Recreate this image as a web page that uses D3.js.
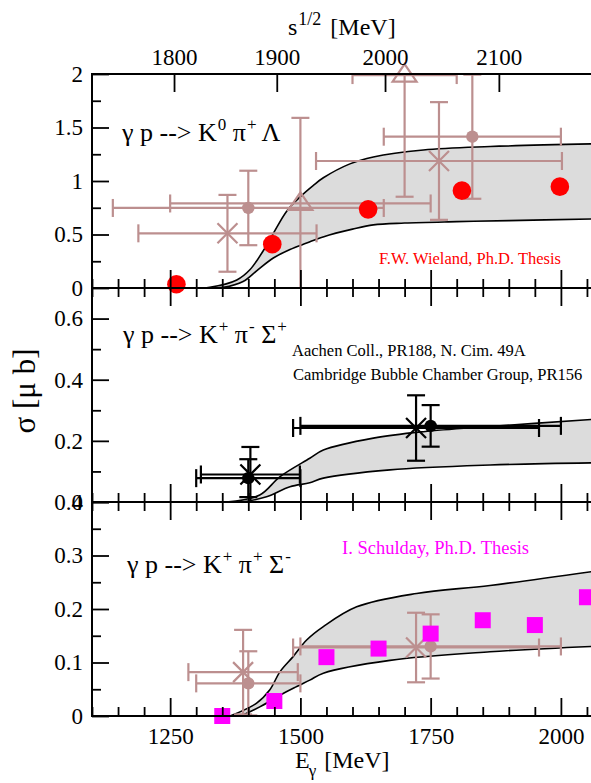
<!DOCTYPE html>
<html>
<head>
<meta charset="utf-8">
<script src="https://cdn.jsdelivr.net/npm/d3@7"></script>
<style>
  html, body { margin: 0; padding: 0; background: #fff; }
  svg { display: block; font-family: "Liberation Serif", "Times New Roman", serif; }
</style>
</head>
<body>
<script>
// ---- shared axis data ----
const M_P = 938.272;                       // proton mass [MeV]
const energyDomain = [1100, 2100];         // E_gamma [MeV]
const energyMajor = [1250, 1500, 1750, 2000];
const energyMinorStep = 50;
const sqrtsTicks = [1800, 1900, 2000, 2100];

// ---- gamma p -> K0 pi+ Lambda ----
const k0YMajor = [0, 0.5, 1, 1.5, 2];
const k0YMinor = [0.25, 0.75, 1.25, 1.75];
const k0BandUpper = [[1280,0],[1326,0.007],[1378,0.075],[1403,0.17],[1429,0.35],[1448,0.51],[1474,0.72],
                     [1499,0.85],[1525,0.96],[1544,1.03],[1595,1.16],[1640,1.225],[1736,1.29],[1864,1.322],[2060,1.347]];
const k0BandLower = [[1300,0],[1352,0.006],[1390,0.06],[1416,0.16],[1448,0.28],[1480,0.36],[1512,0.42],
                     [1545,0.48],[1600,0.55],[1640,0.59],[1700,0.607],[1800,0.62],[1900,0.63],[2060,0.645]];
const wielandE = [1262, 1446, 1630, 1810, 1998];
const wielandSigma = [0.035, 0.41, 0.735, 0.91, 0.947];
const k0Cross = [{e:1360, de:171, s:0.511, ds:0.359}, {e:1766, de:236, s:1.187, ds:0.55}];
const k0Dot   = [{e:1400, de:260, s:0.748, ds:0.348}, {e:1830, de:170, s:1.414, ds:0.58}];
const k0Tri   = [{e:1500, de:250, s:0.79, ds:0.80}, {e:1700, de:100, s:1.99, ds:1.137}];

// ---- gamma p -> K+ pi- Sigma+ ----
const pmYMajor = [0, 0.2, 0.4, 0.6];
const pmYMinor = [0.1, 0.3, 0.5];
const pmBandUpper = [[1358,0],[1422,0.023],[1461,0.083],[1518,0.143],[1544,0.17],[1640,0.209],[1736,0.23],[1864,0.247],[2060,0.27]];
const pmBandLower = [[1390,0],[1435,0.017],[1480,0.05],[1518,0.063],[1544,0.078],[1672,0.105],[1864,0.121],[2060,0.128]];
const pmCross = [{e:1404, de:95, s:0.09, ds:0.09}, {e:1722, de:236, s:0.242, ds:0.107}];
const pmDot   = [{e:1400, de:100, s:0.078, ds:0.062}, {e:1750, de:250, s:0.249, ds:0.068}];

// ---- gamma p -> K+ pi+ Sigma- ----
const mpYMajor = [0, 0.1, 0.2, 0.3, 0.4];
const mpYMinor = [0.05, 0.15, 0.25, 0.35];
const mpBandUpper = [[1365,0],[1416,0.024],[1441,0.0485],[1461,0.083],[1486,0.111],[1512,0.142],[1544,0.167],
                     [1608,0.204],[1723,0.229],[1864,0.244],[2060,0.27]];
const mpBandLower = [[1385,0],[1422,0.017],[1461,0.039],[1493,0.055],[1518,0.067],[1544,0.08],[1672,0.104],[1864,0.12],[2060,0.13]];
const schuldayE = [1350, 1450, 1550, 1650, 1750, 1850, 1950, 2050];
const schuldaySigma = [0.0, 0.028, 0.11, 0.126, 0.154, 0.179, 0.17, 0.222];
const mpCross = [{e:1390, de:105, s:0.082, ds:0.079}, {e:1722, de:236, s:0.128, ds:0.065}];
const mpDot   = [{e:1400, de:100, s:0.061, ds:0.06}, {e:1750, de:250, s:0.13, ds:0.06}];

// ---- layout ----
const W = 591, H = 783;
const left = 92, right = 613, panelH = 214;
const tops = [74, 288, 502];
const ROSY = "#bc8f8f", GRAY = "#dcdcdc";

const svg = d3.select("body").append("svg").attr("width", W).attr("height", H);
const defs = svg.append("defs");

const x = d3.scaleLinear().domain(energyDomain).range([left, right]);
const wOf = e => Math.sqrt(M_P * M_P + 2 * M_P * e);
// x is linear in s = W^2, so a square power scale maps sqrt(s) onto the same pixels
const xs = d3.scalePow().exponent(2).domain(energyDomain.map(wOf)).range([left, right]);

const panels = [
  { top: tops[0], domain: [0, 2],   major: k0YMajor, minor: k0YMinor, upper: k0BandUpper, lower: k0BandLower,
    cross: k0Cross, dot: k0Dot, tri: k0Tri, color: ROSY },
  { top: tops[1], domain: [0, 0.7], major: pmYMajor, minor: pmYMinor, upper: pmBandUpper, lower: pmBandLower,
    cross: pmCross, dot: pmDot, tri: [], color: "#000" },
  { top: tops[2], domain: [0, 0.4], major: mpYMajor, minor: mpYMinor, upper: mpBandUpper, lower: mpBandLower,
    cross: mpCross, dot: mpDot, tri: [], color: ROSY }
];

const energyMinor = d3.range(energyDomain[0], energyDomain[1] + 1, energyMinorStep)
  .filter(e => !energyMajor.includes(e));

function drawErrors(g, pts, y, color) {
  const cap = 9;
  const segs = [];
  pts.forEach(p => {
    const xc = x(p.e), yc = y(p.s);
    const xl = x(p.e - p.de), xr = x(p.e + p.de);
    const yt = y(p.s + p.ds), yb = y(p.s - p.ds);
    segs.push([xl, yc, xr, yc], [xl, yc - cap, xl, yc + cap], [xr, yc - cap, xr, yc + cap]);
    segs.push([xc, yt, xc, yb], [xc - cap, yt, xc + cap, yt], [xc - cap, yb, xc + cap, yb]);
  });
  g.selectAll(null).data(segs).join("line")
    .attr("x1", d => d[0]).attr("y1", d => d[1]).attr("x2", d => d[2]).attr("y2", d => d[3])
    .attr("stroke", color).attr("stroke-width", 2.2);
}

panels.forEach((P, i) => {
  const y = d3.scaleLinear().domain(P.domain).range([P.top + panelH, P.top]);
  const g = svg.append("g");

  defs.append("clipPath").attr("id", "clip" + i)
    .append("rect").attr("x", left).attr("y", P.top).attr("width", right - left).attr("height", panelH);

  // model band
  const line = d3.line().x(d => x(d[0])).y(d => y(d[1])).curve(d3.curveCatmullRom.alpha(0.5));
  const up = line(P.upper);
  const lo = line(P.lower.slice().reverse());
  const band = g.append("g").attr("clip-path", `url(#clip${i})`);
  band.append("path").attr("d", up + "L" + lo.slice(1) + "Z").attr("fill", GRAY).attr("stroke", "none");
  [P.upper, P.lower].forEach(c => band.append("path").attr("d", line(c))
    .attr("fill", "none").attr("stroke", "#000").attr("stroke-width", 1.6));

  // error bars (clipped to the frame), markers unclipped
  const eg = g.append("g").attr("clip-path", `url(#clip${i})`);
  drawErrors(eg, P.cross, y, P.color);
  drawErrors(eg, P.dot, y, P.color);
  drawErrors(eg, P.tri, y, P.color);

  g.selectAll(null).data(P.cross).join("path")
    .attr("transform", d => `translate(${x(d.e)},${y(d.s)})`)
    .attr("d", "M-10,-10L10,10M-10,10L10,-10")
    .attr("stroke", P.color).attr("stroke-width", 2.2).attr("fill", "none");
  g.selectAll(null).data(P.dot).join("circle")
    .attr("cx", d => x(d.e)).attr("cy", d => y(d.s)).attr("r", 6.2).attr("fill", P.color);
  g.selectAll(null).data(P.tri).join("path")
    .attr("transform", d => `translate(${x(d.e)},${y(d.s)})`)
    .attr("d", "M0,-11L12,6.5L-12,6.5Z")
    .attr("stroke", P.color).attr("stroke-width", 2.2).attr("fill", "none");

  if (i === 0) {
    g.selectAll(null).data(wielandE).join("circle")
      .attr("cx", d => x(d)).attr("cy", (d, k) => y(wielandSigma[k])).attr("r", 9.3).attr("fill", "#ff0000");
  }
  if (i === 2) {
    g.selectAll(null).data(schuldayE).join("rect")
      .attr("x", d => x(d) - 8).attr("y", (d, k) => y(schuldaySigma[k]) - 8)
      .attr("width", 16).attr("height", 16).attr("fill", "#ff00ff");
  }

  // frame
  svg.append("rect").attr("x", left).attr("y", P.top).attr("width", right - left).attr("height", panelH)
    .attr("fill", "none").attr("stroke", "#000").attr("stroke-width", 2);

  // y axis (inward ticks)
  const yMaj = svg.append("g").attr("transform", `translate(${left},0)`)
    .call(d3.axisLeft(y).tickValues(P.major).tickSize(-17).tickPadding(9).tickFormat(d3.format("~g")));
  const yMin = svg.append("g").attr("transform", `translate(${left},0)`)
    .call(d3.axisLeft(y).tickValues(P.minor).tickSize(-9).tickFormat(""));

  // energy ticks on panel bottom (up) and on top of lower panels (down)
  const bMaj = svg.append("g").attr("transform", `translate(0,${P.top + panelH})`)
    .call(d3.axisBottom(x).tickValues(energyMajor).tickSize(-18).tickPadding(12)
      .tickFormat(i === 2 ? d3.format("d") : ""));
  const bMin = svg.append("g").attr("transform", `translate(0,${P.top + panelH})`)
    .call(d3.axisBottom(x).tickValues(energyMinor).tickSize(-9).tickFormat(""));
  const axes = [yMaj, yMin, bMaj, bMin];
  if (i > 0) {
    axes.push(svg.append("g").attr("transform", `translate(0,${P.top})`)
      .call(d3.axisTop(x).tickValues(energyMajor).tickSize(-18).tickFormat("")));
    axes.push(svg.append("g").attr("transform", `translate(0,${P.top})`)
      .call(d3.axisTop(x).tickValues(energyMinor).tickSize(-9).tickFormat("")));
  } else {
    axes.push(svg.append("g").attr("transform", `translate(0,${P.top})`)
      .call(d3.axisTop(xs).tickValues(sqrtsTicks).tickSize(-18).tickPadding(9).tickFormat(d3.format("d"))));
  }
  axes.forEach(a => {
    a.select(".domain").remove();
    a.selectAll(".tick line").attr("stroke", "#000").attr("stroke-width", 1.8);
    a.selectAll("text").attr("font-family", "Liberation Serif, serif").attr("font-size", 23).attr("fill", "#000");
  });
});

// ---- reaction labels ----
function reaction(xp, yb, parts) {
  const t = svg.append("text").attr("x", xp).attr("y", yb).attr("font-size", 26).attr("fill", "#000");
  let raised = false;
  parts.forEach(([s, sup]) => {
    const ts = t.append("tspan").text(s);
    if (sup) {
      ts.attr("dy", raised ? 0 : -11).attr("dx", 1).attr("font-size", 17);
      raised = true;
    } else {
      ts.attr("dy", raised ? 11 : 0);
      raised = false;
    }
  });
}
reaction(122, 141, [["γ p --> K"], ["0", 1], [" π"], ["+", 1], [" Λ"]]);
reaction(123, 343, [["γ p --> K"], ["+", 1], [" π"], ["-", 1], [" Σ"], ["+", 1]]);
reaction(127, 573, [["γ p --> K"], ["+", 1], [" π"], ["+", 1], [" Σ"], ["-", 1]]);

// ---- data source notes ----
svg.append("text").attr("x", 379).attr("y", 264).attr("font-size", 16.5).attr("fill", "#ff0000")
  .text("F.W. Wieland, Ph.D. Thesis");
svg.append("text").attr("x", 292).attr("y", 356).attr("font-size", 16.5).attr("fill", "#000")
  .text("Aachen Coll., PR188, N. Cim. 49A");
svg.append("text").attr("x", 293).attr("y", 380).attr("font-size", 16.5).attr("fill", "#000")
  .text("Cambridge Bubble Chamber Group, PR156");
svg.append("text").attr("x", 342).attr("y", 554).attr("font-size", 18.5).attr("fill", "#ff00ff")
  .text("I. Schulday, Ph.D. Thesis");

// ---- axis titles ----
const topTitle = svg.append("text").attr("x", 288).attr("y", 35).attr("font-size", 24).attr("fill", "#000");
topTitle.append("tspan").text("s");
topTitle.append("tspan").attr("dy", -10).attr("dx", 1).attr("font-size", 18).text("1/2");
topTitle.append("tspan").attr("dy", 10).attr("dx", 3).text(" [MeV]");

const botTitle = svg.append("text").attr("x", 295).attr("y", 768).attr("font-size", 24).attr("fill", "#000");
botTitle.append("tspan").text("E");
botTitle.append("tspan").attr("dy", 8).attr("dx", -1).attr("font-size", 17).text("γ");
botTitle.append("tspan").attr("dy", -8).attr("dx", 2).text(" [MeV]");

svg.append("text").attr("transform", "translate(35,391) rotate(-90)").attr("text-anchor", "middle")
  .attr("font-size", 31).attr("fill", "#000").text("σ [μ b]");
</script>
</body>
</html>
